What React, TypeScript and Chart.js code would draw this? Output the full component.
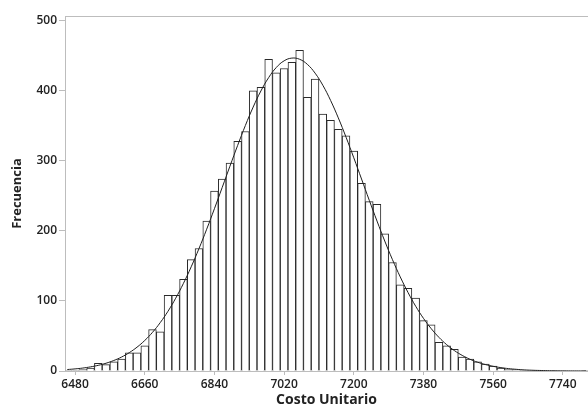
import { useEffect, useRef } from "react";
import { Chart, registerables } from "chart.js";

Chart.register(...registerables);

// Bin midpoints (bin width 20)
const BIN_MIDPOINTS = [
  6460, 6480, 6500, 6520, 6540, 6560, 6580, 6600, 6620, 6640,
  6660, 6680, 6700, 6720, 6740, 6760, 6780, 6800, 6820, 6840,
  6860, 6880, 6900, 6920, 6940, 6960, 6980, 7000, 7020, 7040,
  7060, 7080, 7100, 7120, 7140, 7160, 7180, 7200, 7220, 7240,
  7260, 7280, 7300, 7320, 7340, 7360, 7380, 7400, 7420, 7440,
  7460, 7480, 7500, 7520, 7540, 7560, 7580, 7600, 7620, 7640,
  7660, 7680, 7700, 7720, 7740, 7760, 7780, 7800,
];

const FREQUENCIES = [
  1, 1, 2, 4, 11, 9, 13, 17, 26, 26,
  36, 59, 56, 108, 108, 131, 159, 175, 214, 257,
  274, 297, 328, 342, 400, 405, 445, 426, 432, 441,
  458, 391, 417, 367, 358, 345, 336, 314, 268, 242,
  238, 196, 155, 123, 118, 104, 72, 66, 41, 36,
  31, 20, 17, 13, 10, 7, 4, 2, 2, 1,
  1, 1, 0, 0, 0, 0, 0, 1,
];

// Fitted normal curve, read at each bin midpoint
const CURVE_VALUES = [
  2.1, 3.0, 4.2, 5.9, 8.1, 11.1, 15.0, 19.9, 26.2, 34.0,
  43.6, 55.2, 69.1, 85.3, 104.0, 125.2, 148.8, 174.7, 202.5, 231.8,
  262.0, 292.4, 322.2, 350.7, 376.9, 399.9, 419.0, 433.6, 443.0, 446.9,
  445.2, 438.0, 425.4, 408.1, 386.5, 361.5, 333.9, 304.5, 274.2, 243.8,
  214.1, 185.6, 158.9, 134.4, 112.2, 92.4, 75.2, 60.5, 48.0, 37.6,
  29.1, 22.3, 16.8, 12.5, 9.2, 6.7, 4.8, 3.4, 2.4, 1.6,
  1.1, 0.76, 0.5, 0.33, 0.21, 0.13, 0.08, 0.05,
];

const X_TICKS = [6480, 6660, 6840, 7020, 7200, 7380, 7560, 7740];
const Y_TICKS = [0, 100, 200, 300, 400, 500];

export default function App() {
  const ref = useRef<HTMLCanvasElement>(null);

  useEffect(() => {
    const family = "'Open Sans', 'DejaVu Sans', sans-serif";
    const axisColor = "#bdbdbd";
    const chart = new Chart(ref.current!, {
      type: "bar",
      data: {
        datasets: [
          {
            type: "line",
            xAxisID: "x",
            yAxisID: "y",
            data: BIN_MIDPOINTS.map((x, i) => ({ x, y: CURVE_VALUES[i] })),
            borderColor: "#1e1e1e",
            borderWidth: 1,
            pointRadius: 0,
            tension: 0.4,
            fill: false,
            order: 0,
            clip: 0,
          } as any,
          {
            type: "bar",
            xAxisID: "x",
            yAxisID: "y",
            data: BIN_MIDPOINTS.map((x, i) => ({ x, y: FREQUENCIES[i] })).filter((d) => d.y > 0),
            backgroundColor: "#ffffff",
            borderColor: "#2a2a2a",
            borderWidth: 1,
            barPercentage: 1,
            categoryPercentage: 1,
            order: 1,
            clip: 0,
          } as any,
        ],
      },
      options: {
        responsive: false,
        animation: false,
        devicePixelRatio: 1,
        layout: { padding: { top: 16, left: 0, right: 0, bottom: 0 } },
        plugins: { legend: { display: false }, tooltip: { enabled: false } },
        scales: {
          x: {
            type: "linear",
            position: "bottom",
            min: 6454,
            max: 7805,
            offset: false,
            afterBuildTicks: (s: any) => {
              s.ticks = X_TICKS.map((v) => ({ value: v }));
            },
            afterFit: (s: any) => {
              s.height = 38;
            },
            grid: {
              display: true,
              offset: false,
              drawOnChartArea: false,
              drawTicks: true,
              tickLength: 4,
              color: axisColor,
            },
            border: { color: axisColor },
            ticks: {
              callback: (v: any) => String(v),
              font: { family, size: 12, weight: "600" },
              color: "#222222",
              padding: 2,
              maxRotation: 0,
              autoSkip: false,
            },
            title: {
              display: true,
              text: "Costo Unitario",
              font: { family, size: 14, weight: "bold" },
              color: "#222222",
              padding: { top: 0, bottom: 1 },
            },
          },
          x2: {
            type: "linear",
            position: "top",
            min: 0,
            max: 1,
            afterFit: (s: any) => {
              s.height = 0;
            },
            grid: { display: true, drawOnChartArea: false, drawTicks: false, color: axisColor },
            border: { color: axisColor },
            ticks: { display: false },
          },
          y: {
            type: "linear",
            min: 0,
            max: 507,
            afterBuildTicks: (s: any) => {
              s.ticks = Y_TICKS.map((v) => ({ value: v }));
            },
            afterFit: (s: any) => {
              s.width = 65;
            },
            grid: {
              display: true,
              drawOnChartArea: false,
              drawTicks: true,
              tickLength: 6,
              color: axisColor,
            },
            border: { color: axisColor },
            ticks: {
              font: { family, size: 12, weight: "600" },
              color: "#222222",
              padding: 2,
            },
            title: {
              display: true,
              text: "Frecuencia",
              font: { family, size: 13, weight: "bold" },
              color: "#222222",
              padding: { top: 9, bottom: 0 },
            },
          },
        },
      } as any,
    });
    return () => chart.destroy();
  }, []);

  return (
    <div style={{ position: "absolute", left: 0, top: 0, width: 588, height: 409 }}>
      <canvas ref={ref} width={588} height={409} style={{ display: "block" }} />
    </div>
  );
}
